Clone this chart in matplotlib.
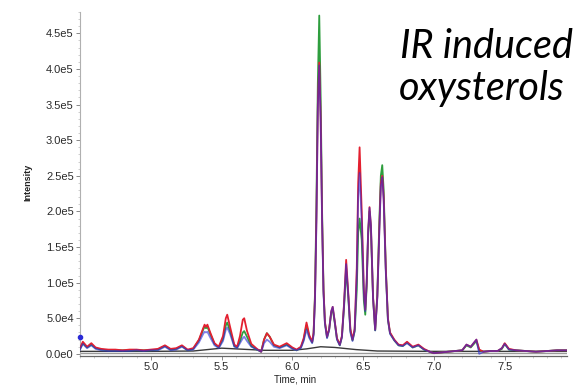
import matplotlib
matplotlib.use("Agg")
import matplotlib.pyplot as plt
from matplotlib.ticker import FixedLocator, MultipleLocator

# ---- data (intensity in units of 1e4 counts) ----
t = [4.50, 4.52, 4.55, 4.58, 4.61, 4.65, 4.70, 4.75, 4.80, 4.85, 4.90, 4.95, 5.00, 5.05, 5.10, 5.14,
     5.18, 5.22, 5.26, 5.30, 5.34, 5.37, 5.38, 5.39, 5.40, 5.42, 5.45, 5.48, 5.51, 5.53, 5.54, 5.56,
     5.59, 5.61, 5.63, 5.65, 5.66, 5.68, 5.71, 5.75, 5.78, 5.80, 5.82, 5.84, 5.87, 5.91, 5.96, 6.00,
     6.03, 6.06, 6.08, 6.10, 6.12, 6.14, 6.15, 6.16, 6.17, 6.18, 6.19, 6.20, 6.21, 6.22, 6.23, 6.245,
     6.26, 6.275, 6.285, 6.30, 6.315, 6.335, 6.35, 6.365, 6.38, 6.395, 6.41, 6.425, 6.44, 6.455, 6.465, 6.475,
     6.49, 6.505, 6.515, 6.525, 6.535, 6.545, 6.555, 6.57, 6.585, 6.60, 6.615, 6.625, 6.635, 6.645, 6.66, 6.675,
     6.69, 6.72, 6.75, 6.78, 6.81, 6.85, 6.89, 6.93, 6.97, 7.00, 7.05, 7.10, 7.15, 7.20, 7.23, 7.26,
     7.30, 7.32, 7.35, 7.40, 7.45, 7.48, 7.50, 7.53, 7.58, 7.65, 7.72, 7.80, 7.87, 7.94]

red = [0.8, 1.7, 1.0, 1.5, 0.9, 0.7, 0.6, 0.6, 0.5, 0.6, 0.6, 0.5, 0.6, 0.7, 1.2, 0.7,
       0.8, 1.2, 0.6, 0.8, 2.0, 3.6, 4.1, 3.8, 4.1, 3.0, 1.5, 1.0, 2.5, 5.0, 5.5, 3.8,
       1.3, 1.0, 2.5, 4.8, 5.0, 3.2, 1.4, 0.7, 0.3, 2.0, 2.9, 2.4, 1.3, 1.0, 1.5, 0.9,
       0.6, 1.0, 2.2, 4.4, 2.6, 1.7, 3.0, 8.0, 19.0, 35.0, 40.9, 33.0, 19.0, 9.0, 4.5, 2.4,
       3.5, 6.0, 6.6, 4.5, 2.2, 1.3, 2.5, 7.0, 13.2, 8.5, 3.5, 2.0, 3.5, 12.0, 24.0, 29.0,
       20.0, 9.0, 6.2, 10.0, 17.0, 20.6, 18.0, 8.0, 3.4, 8.0, 18.0, 24.0, 25.0, 22.0, 12.0, 5.0,
       3.0, 2.0, 1.3, 1.2, 1.7, 1.0, 1.3, 0.7, 0.3, 0.1, 0.2, 0.3, 0.4, 0.5, 1.3, 1.0,
       2.0, 0.6, 0.3, 0.4, 0.4, 0.8, 1.5, 0.7, 0.5, 0.4, 0.3, 0.4, 0.5, 0.5]

blue = [0.6, 1.4, 0.8, 1.2, 0.7, 0.5, 0.4, 0.4, 0.4, 0.4, 0.5, 0.4, 0.5, 0.5, 1.0, 0.5,
        0.6, 1.0, 0.5, 0.6, 1.6, 2.8, 3.1, 3.0, 3.1, 2.3, 1.2, 0.8, 1.8, 3.4, 3.7, 2.8,
        1.0, 0.8, 1.5, 2.2, 2.4, 1.8, 1.0, 0.6, 0.3, 1.5, 2.0, 1.7, 1.0, 0.8, 1.2, 0.7,
        0.5, 0.8, 1.8, 3.4, 2.2, 1.5, 2.6, 7.5, 18.5, 34.5, 40.5, 32.5, 18.5, 8.5, 4.2, 2.2,
        3.4, 6.0, 6.6, 4.4, 2.0, 1.2, 2.3, 6.8, 12.6, 8.2, 3.0, 1.8, 3.2, 11.0, 22.0, 25.4,
        18.5, 8.5, 6.0, 10.0, 17.0, 20.5, 18.0, 7.8, 3.3, 7.8, 17.5, 23.5, 24.8, 21.5, 11.5, 4.8,
        2.8, 1.9, 1.2, 1.1, 1.5, 0.9, 1.2, 0.6, 0.3, 0.1, 0.2, 0.3, 0.4, 0.5, 1.3, 1.0,
        2.0, 0.0, 0.3, 0.4, 0.4, 0.8, 1.4, 0.6, 0.5, 0.4, 0.3, 0.4, 0.5, 0.5]

green = [0.7, 1.5, 0.9, 1.3, 0.8, 0.6, 0.5, 0.5, 0.5, 0.5, 0.5, 0.5, 0.5, 0.6, 1.1, 0.6,
         0.7, 1.1, 0.5, 0.7, 1.9, 3.4, 3.8, 3.6, 3.8, 2.8, 1.4, 0.9, 2.1, 4.0, 4.4, 3.2,
         1.1, 0.9, 1.8, 3.0, 3.2, 2.4, 1.1, 0.6, 0.3, 2.0, 2.9, 2.4, 1.2, 0.9, 1.3, 0.8,
         0.5, 0.9, 2.0, 4.0, 2.4, 1.6, 2.8, 8.5, 21.0, 38.0, 47.5, 36.0, 20.0, 9.0, 4.4, 2.3,
         3.4, 5.8, 6.3, 4.3, 2.1, 1.2, 2.4, 6.5, 12.0, 8.0, 3.2, 1.9, 3.2, 9.0, 17.0, 19.0,
         16.0, 7.5, 5.5, 9.5, 16.5, 20.0, 17.5, 7.8, 3.3, 8.2, 19.0, 25.0, 26.5, 23.0, 12.0, 4.8,
         2.9, 1.9, 1.2, 1.1, 1.6, 0.9, 1.2, 0.6, 0.3, 0.1, 0.2, 0.3, 0.4, 0.5, 1.2, 0.9,
         1.8, 0.5, 0.3, 0.4, 0.4, 0.7, 1.4, 0.6, 0.5, 0.4, 0.3, 0.4, 0.5, 0.5]

t_black = [4.50, 5.00, 5.30, 5.50, 5.60, 5.80, 6.00, 6.10, 6.20, 6.30, 6.45, 6.60, 7.00, 7.94]
black = [0.35, 0.35, 0.4, 0.8, 0.7, 0.5, 0.5, 0.7, 1.0, 0.9, 0.6, 0.4, 0.35, 0.35]

t_gray = [4.50, 7.94]
gray = [0.1, 0.1]

dot_t = [4.50]
dot_y = [2.4]

x_ticks = [5.0, 5.5, 6.0, 6.5, 7.0, 7.5]
x_tick_labels = ["5.0", "5.5", "6.0", "6.5", "7.0", "7.5"]
y_ticks = [0, 5e4, 1e5, 1.5e5, 2e5, 2.5e5, 3e5, 3.5e5, 4e5, 4.5e5]
y_tick_labels = ["0.0e0", "5.0e4", "1.0e5", "1.5e5", "2.0e5", "2.5e5", "3.0e5", "3.5e5", "4.0e5", "4.5e5"]

SCALE = 1e4

fig = plt.figure(figsize=(5.79, 3.85), dpi=100)
ax = fig.add_axes([80 / 579, (385 - 356) / 385, (567 - 80) / 579, 344 / 385])

def sc(v):
    return [x * SCALE for x in v]

ax.plot(t_gray, sc(gray), color="#9a9a9a", lw=1.0, zorder=2)
ax.plot(t_black, sc(black), color="#3a3a3a", lw=1.0, zorder=3)
ax.plot(t, sc(green), color="#2e9e3e", lw=1.3, zorder=4)
ax.plot(t, sc(red), color="#e32030", lw=1.3, zorder=5)
ax.plot(t, sc(blue), color="#2a2ad6", lw=1.3, alpha=0.6, zorder=6)
ax.plot(dot_t, sc(dot_y), "o", color="#2a2ad6", ms=3, zorder=7, clip_on=False)

ax.set_xlim(4.5, 7.94)
ax.set_ylim(-3000, 480000)

tick_font = ["Liberation Sans", "DejaVu Sans"]
ax.xaxis.set_major_locator(FixedLocator(x_ticks))
ax.set_xticklabels(x_tick_labels, family=tick_font, fontsize=8, color="#2a2a2a")
ax.yaxis.set_major_locator(FixedLocator(y_ticks))
ax.set_yticklabels(y_tick_labels, family=tick_font, fontsize=8, color="#2a2a2a")
ax.yaxis.set_minor_locator(MultipleLocator(1e4))
ax.xaxis.set_minor_locator(MultipleLocator(0.1))
ax.tick_params(axis="both", which="major", length=3, width=0.7, color="#888888", pad=1.5)
ax.tick_params(axis="both", which="minor", length=1.5, width=0.5, color="#bbbbbb")

for s in ["top", "right"]:
    ax.spines[s].set_visible(False)
ax.spines["left"].set_color("#b0b0b0")
ax.spines["left"].set_linewidth(0.8)
ax.spines["bottom"].set_color("#666666")
ax.spines["bottom"].set_linewidth(0.9)

fig.text(295 / 579, 1 - 380 / 385, "Time, min", family=tick_font, fontsize=7,
         ha="center", va="center", color="#222222")
fig.text(28 / 579, 1 - 182 / 385, "Intensity", family=tick_font, fontsize=6.5,
         fontweight="bold", rotation=90, ha="center", va="center", color="#222222")

fig.text(400 / 579, 1 - 58 / 385, "IR induced", family=["Lato", "DejaVu Sans"],
         style="italic", fontsize=28.5, ha="left", va="baseline", color="black")
fig.text(399 / 579, 1 - 100 / 385, "oxysterols", family=["Lato", "DejaVu Sans"],
         style="italic", fontsize=28.5, ha="left", va="baseline", color="black")

fig.savefig("out.png", dpi=100)
